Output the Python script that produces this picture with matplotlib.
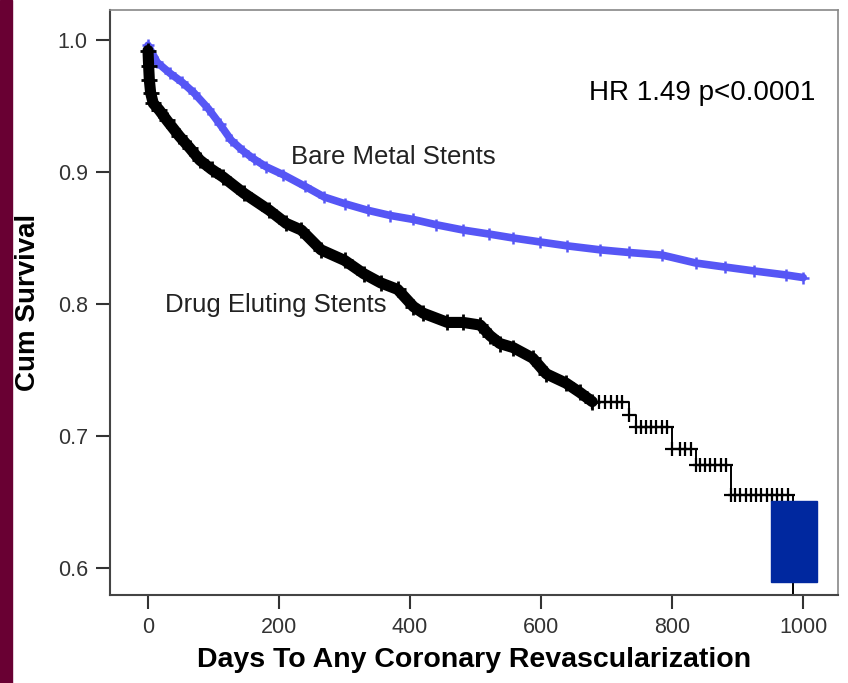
import numpy as np
import matplotlib.pyplot as plt
from matplotlib.patches import Rectangle

plt.rcParams['font.family'] = ['Liberation Sans', 'DejaVu Sans']

# Bare metal stents (blue)
bms_days = [0, 14, 33, 52, 70, 92, 110, 127, 145, 161, 180, 206, 240, 269, 300,
            335, 370, 405, 440, 481, 520, 557, 598, 640, 690, 734, 785, 836,
            880, 925, 973, 1000]
bms_surv = [0.996, 0.983, 0.975, 0.968, 0.960, 0.948, 0.936, 0.924, 0.916, 0.910,
            0.904, 0.898, 0.889, 0.881, 0.876, 0.871, 0.867, 0.864, 0.860, 0.856,
            0.853, 0.850, 0.847, 0.844, 0.841, 0.839, 0.837, 0.831, 0.828, 0.825,
            0.822, 0.820]

# Drug eluting stents (black)
des_days = [0, 1, 2, 4, 8, 17, 29, 48, 64, 79, 97, 115, 146, 185, 211, 234, 264,
            300, 329, 355, 381, 405, 420, 457, 481, 507, 522, 537, 557, 587, 608,
            638, 659, 678, 734, 745, 800, 836, 889, 985]
des_surv = [0.992, 0.980, 0.970, 0.960, 0.952, 0.947, 0.939, 0.927, 0.918, 0.909,
            0.902, 0.896, 0.884, 0.871, 0.861, 0.856, 0.841, 0.833, 0.823, 0.816,
            0.811, 0.798, 0.793, 0.786, 0.786, 0.784, 0.776, 0.770, 0.767, 0.759,
            0.747, 0.740, 0.733, 0.726, 0.716, 0.707, 0.690, 0.678, 0.655, 0.55]

# censored cases on the late flat parts of the DES curve
des_cens = [688, 697, 706, 715, 724, 752, 760, 768, 776, 784, 792, 812, 820, 828,
            842, 850, 858, 866, 874, 882, 896, 904, 912, 920, 928, 936, 944, 952,
            960, 968, 976]

xticks = [0, 200, 400, 600, 800, 1000]
yticks = [0.6, 0.7, 0.8, 0.9, 1.0]

blue = '#5656F5'

fig = plt.figure(figsize=(8.48, 6.83), dpi=100)
fig.patches.append(Rectangle((0, 0), 12 / 848, 1, transform=fig.transFigure,
                             color='#690033', zorder=0))
ax = fig.add_axes([110 / 848, 1 - 595 / 683, 728 / 848, 585 / 683])

# BMS curve: thick band of dense censor marks
ax.plot(bms_days, bms_surv, color=blue, lw=5.5, solid_capstyle='round')
ax.plot(bms_days, bms_surv, '+', color=blue, ms=9, mew=1.8)

# DES curve: dense band up to ~680 days, then visible steps
d = np.array(des_days)
s = np.array(des_surv)
dense = d <= 678
late = d >= 678
ax.plot(d[dense], s[dense], color='black', lw=8, solid_capstyle='round')
ax.plot(d[dense], s[dense], '+', color='black', ms=11, mew=2)
ax.step(d[late], s[late], where='post', color='black', lw=1.4)
idx = np.searchsorted(d, des_cens, side='right') - 1
ax.plot(des_cens, s[idx], '+', color='black', ms=10, mew=1.6)
ax.plot(d[late][:-1], s[late][:-1], '+', color='black', ms=10, mew=1.6)

# overlay box in the lower right corner
ax.add_patch(Rectangle((950, 0.5894), 71, 0.0614, color='#00289F', zorder=5))

ax.text(846, 0.960, 'HR 1.49 p<0.0001', fontsize=20, ha='center', va='center')
ax.text(218, 0.9114, 'Bare Metal Stents', fontsize=18.5, ha='left', va='center',
        color='#222222')
ax.text(26, 0.7992, 'Drug Eluting Stents', fontsize=18.5, ha='left', va='center',
        color='#222222')

ax.set_xlim(-58, 1053)
ax.set_ylim(0.5795, 1.0227)
ax.set_xticks(xticks)
ax.set_yticks(yticks)
ax.set_yticklabels(['%.1f' % v for v in yticks])
ax.tick_params(direction='out', length=10, width=1.5, colors='#333333',
               labelsize=15.5, pad=6)
for side in ['left', 'bottom']:
    ax.spines[side].set_color('#444444')
    ax.spines[side].set_linewidth(1.5)
for side in ['top', 'right']:
    ax.spines[side].set_color('#888888')
    ax.spines[side].set_linewidth(1.2)

ax.set_xlabel('Days To Any Coronary Revascularization', fontsize=20.5,
              fontweight='bold', labelpad=6)
ax.set_ylabel('Cum Survival', fontsize=20, fontweight='bold', labelpad=12)

fig.savefig('out.png', dpi=100)
